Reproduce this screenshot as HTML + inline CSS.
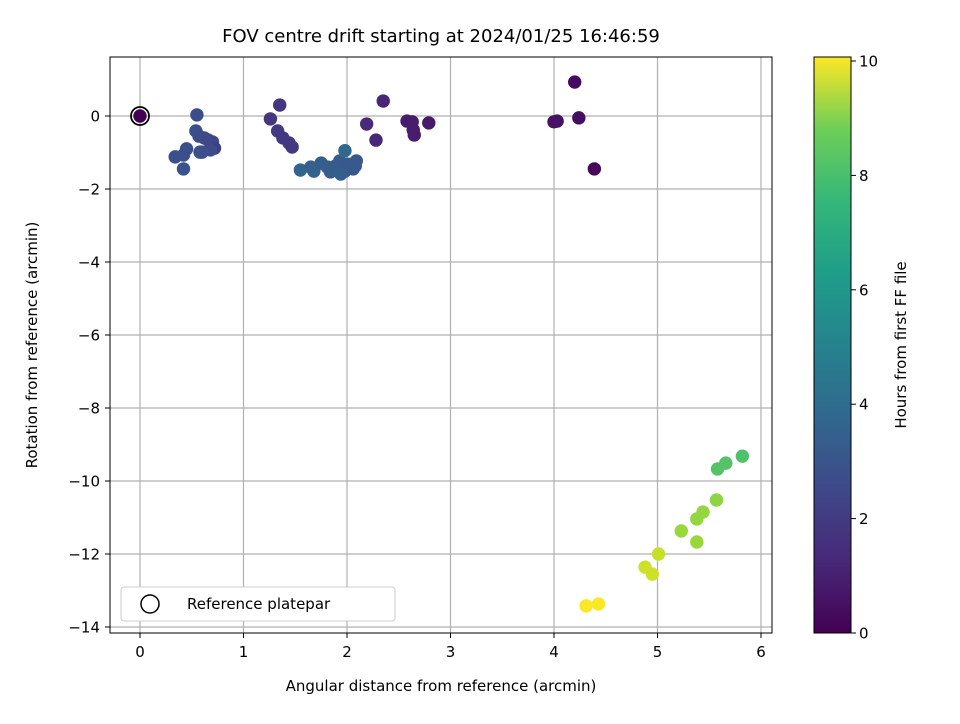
<!DOCTYPE html>
<html><head><meta charset="utf-8"><style>
body{margin:0;background:#fff;font-family:"DejaVu Sans","Liberation Sans",sans-serif;}
svg text{font-family:"DejaVu Sans","Liberation Sans",sans-serif;fill:#000;}
</style></head><body>
<svg id="c" width="960" height="720">
<text x="441" y="42" font-size="18" text-anchor="middle">FOV centre drift starting at 2024/01/25 16:46:59</text>
<g id="grid"></g>
<g id="pts"></g>
<rect x="110" y="57" width="662" height="576" fill="none" stroke="#000" stroke-width="1"/>
<g id="ticks"></g>
<text x="441" y="691" font-size="15" text-anchor="middle">Angular distance from reference (arcmin)</text>
<text transform="translate(37,345) rotate(-90)" font-size="15" text-anchor="middle">Rotation from reference (arcmin)</text>
<g>
<rect x="121" y="587" width="274" height="34" rx="3" fill="#fff" stroke="#ccc"/>
<circle cx="150" cy="604" r="9" fill="none" stroke="#000" stroke-width="1.5"/>
<text x="187" y="609" font-size="15">Reference platepar</text>
</g>
<defs><linearGradient id="vg" x1="0" y1="1" x2="0" y2="0">
<stop offset="0" stop-color="#440154"/><stop offset="0.125" stop-color="#482878"/><stop offset="0.25" stop-color="#3e4989"/><stop offset="0.375" stop-color="#31688e"/><stop offset="0.5" stop-color="#26828e"/><stop offset="0.625" stop-color="#1f9e89"/><stop offset="0.75" stop-color="#35b779"/><stop offset="0.875" stop-color="#6ece58"/><stop offset="1" stop-color="#fde725"/></linearGradient></defs>
<rect x="814" y="57" width="37" height="576" fill="url(#vg)" stroke="#000"/>
<g id="cb"></g>
<text transform="translate(906,345) rotate(-90)" font-size="15" text-anchor="middle">Hours from first FF file</text>
</svg>
<script>
const xs=[4.20,4.24,4.39,4.00,4.03,2.58,2.63,2.64,2.65,2.79,2.35,2.19,2.28,1.35,1.26,1.33,1.38,1.44,1.47,1.55,1.65,1.68,1.75,1.81,1.84,1.89,1.93,1.97,1.98,2.01,2.06,2.08,1.94,2.09,1.98,0.55,0.54,0.57,0.62,0.66,0.70,0.72,0.68,0.58,0.45,0.42,0.34,0.42,0.60,4.31,4.43,4.88,4.95,5.01,5.23,5.38,5.44,5.38,5.57,5.58,5.66,5.82];
const ys=[0.93,-0.05,-1.45,-0.16,-0.14,-0.14,-0.16,-0.38,-0.52,-0.19,0.41,-0.22,-0.66,0.30,-0.08,-0.41,-0.60,-0.74,-0.85,-1.48,-1.40,-1.51,-1.29,-1.40,-1.53,-1.37,-1.23,-1.40,-1.51,-1.32,-1.45,-1.37,-1.59,-1.23,-0.95,0.03,-0.41,-0.55,-0.60,-0.66,-0.71,-0.88,-0.93,-0.99,-0.90,-1.07,-1.12,-1.45,-0.99,-13.42,-13.37,-12.36,-12.55,-12.00,-11.37,-11.04,-10.85,-11.67,-10.52,-9.67,-9.51,-9.32];
const hs=[0.3,0.4,0.2,0.5,0.5,0.8,0.8,0.8,0.8,0.7,1.1,1.2,1.1,1.6,1.6,1.7,1.7,1.7,1.7,3.2,3.1,3.1,3.0,3.0,3.0,2.9,2.9,2.9,2.9,2.8,2.8,2.8,3.0,2.8,3.3,2.4,2.4,2.3,2.3,2.2,2.2,1.9,2.3,2.5,2.5,2.5,2.5,2.6,2.5,10.0,10.0,9.3,9.3,9.2,8.5,8.4,8.4,8.5,8.3,7.3,7.3,7.2];
const xticks=[0,1,2,3,4,5,6];
const yticks=[0,-2,-4,-6,-8,-10,-12,-14];
const cticks=[0,2,4,6,8,10];
const X=v=>140+v*103.5, Y=v=>116-v*36.5, C=v=>633-v*57.2;
const vir=["#440154","#482878","#3e4989","#31688e","#26828e","#1f9e89","#35b779","#6ece58","#b5de2b","#fde725"];
function col(h){let t=Math.max(0,Math.min(1,h/10.05))*(vir.length-1);let i=Math.min(Math.floor(t),vir.length-2),f=t-i;
const a=vir[i],b=vir[i+1];const p=(s,k)=>parseInt(s.substr(k,2),16);
let r=[1,3,5].map(k=>Math.round(p(a,k)*(1-f)+p(b,k)*f));return `rgb(${r})`;}
const NS="http://www.w3.org/2000/svg";
function mk(p,tag,at){const e=document.createElementNS(NS,tag);for(const k in at)e.setAttribute(k,at[k]);p.appendChild(e);return e;}
const g=document.getElementById('grid'),t=document.getElementById('ticks'),pg=document.getElementById('pts'),cb=document.getElementById('cb');
xticks.forEach(v=>{const x=X(v);
const l=mk(g,'line',{x1:x,x2:x,y1:57,y2:633,stroke:'#b0b0b0','stroke-width':1.2});


mk(t,'line',{x1:x,x2:x,y1:633,y2:638,stroke:'#000'});
const s=mk(t,'text',{x:x,y:657,'font-size':15,'text-anchor':'middle'});s.textContent=v;

});
yticks.forEach(v=>{const y=Y(v);
const l=mk(g,'line',{x1:110,x2:772,y1:y,y2:y,stroke:'#b0b0b0','stroke-width':1.2});


mk(t,'line',{x1:105,x2:110,y1:y,y2:y,stroke:'#000'});
const s=mk(t,'text',{x:100,y:y+5.5,'font-size':15,'text-anchor':'end'});s.textContent=v==0?'0':'\u2212'+Math.abs(v);

});
cticks.forEach(v=>{const y=C(v);
mk(cb,'line',{x1:851,x2:856,y1:y,y2:y,stroke:'#000'});
const s=mk(cb,'text',{x:859,y:y+5.5,'font-size':15});s.textContent=v;

});
xs.forEach((v,i)=>{const c=mk(pg,'circle',{cx:X(v),cy:Y(ys[i]),r:6.7,fill:col(hs[i])});

});
const r0=mk(pg,'circle',{cx:X(0),cy:Y(0),r:6.7,fill:col(0)});


const r1=mk(pg,'circle',{cx:X(0),cy:Y(0),r:9,fill:'none',stroke:'#000','stroke-width':1.8});


</script>
</body></html>
